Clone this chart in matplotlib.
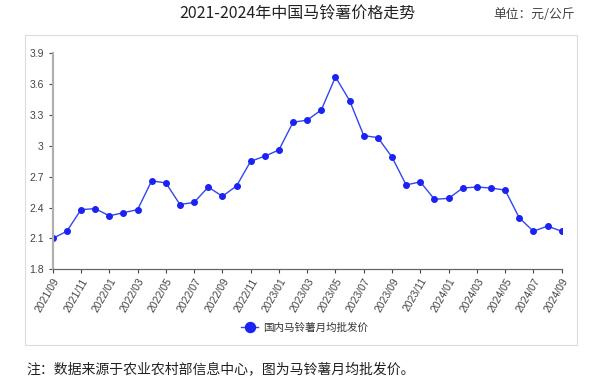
import matplotlib.pyplot as plt
from matplotlib.patches import Rectangle
from matplotlib.ticker import FuncFormatter

plt.rcParams['font.family'] = ['Noto Sans CJK SC', 'DejaVu Sans']

# monthly labels 2021/09 .. 2024/09
months = ['2021/09', '2021/10', '2021/11', '2021/12',
          '2022/01', '2022/02', '2022/03', '2022/04', '2022/05', '2022/06',
          '2022/07', '2022/08', '2022/09', '2022/10', '2022/11', '2022/12',
          '2023/01', '2023/02', '2023/03', '2023/04', '2023/05', '2023/06',
          '2023/07', '2023/08', '2023/09', '2023/10', '2023/11', '2023/12',
          '2024/01', '2024/02', '2024/03', '2024/04', '2024/05', '2024/06',
          '2024/07', '2024/08', '2024/09']
prices = [2.10, 2.17, 2.38, 2.39,
          2.32, 2.35, 2.38, 2.66, 2.64, 2.43,
          2.45, 2.60, 2.51, 2.61, 2.85, 2.90,
          2.96, 3.23, 3.25, 3.35, 3.67, 3.44,
          3.10, 3.08, 2.89, 2.62, 2.65, 2.48,
          2.49, 2.59, 2.60, 2.59, 2.57, 2.30,
          2.17, 2.22, 2.17]
y_ticks = [1.8, 2.1, 2.4, 2.7, 3.0, 3.3, 3.6, 3.9]

title = '2021-2024年中国马铃薯价格走势'
unit = '单位：元/公斤'
series_name = '国内马铃薯月均批发价'
note = '注：数据来源于农业农村部信息中心，图为马铃薯月均批发价。'

fig = plt.figure(figsize=(6.01, 3.89), dpi=100)
ax = fig.add_axes([0.0877, 0.3077, 0.8469, 0.5553])

# light frame around the chart
fig.patches.append(Rectangle((25.3 / 601, 1 - 345 / 389), 552 / 601, 310 / 389,
                             transform=fig.transFigure, fill=False,
                             edgecolor='#dcdcdc', linewidth=0.8))

x = list(range(len(months)))
ax.plot(x, prices, color='#3346ee', linewidth=1.0, marker='o', markersize=4,
        markerfacecolor='#1a22f5', markeredgecolor='#1a22f5', label=series_name)

ax.set_xlim(0, len(months) - 1)
ax.set_ylim(1.8, 3.9)
ax.set_yticks(y_ticks)
ax.yaxis.set_major_formatter(FuncFormatter(lambda v, p: '%g' % round(v, 1)))
ax.set_xticks(x[::2])
ax.set_xticklabels(months[::2], rotation=60, ha='right', va='top',
                   rotation_mode='anchor', family='Liberation Sans')
for lab in ax.get_yticklabels():
    lab.set_family('Liberation Sans')

ax.tick_params(axis='both', labelsize=7.5, colors='#444444', length=3, width=0.8)
ax.tick_params(axis='x', pad=2)
ax.spines['top'].set_visible(False)
ax.spines['right'].set_visible(False)
ax.spines['left'].set_color('#b0b0b0')
ax.spines['left'].set_linewidth(1.6)
ax.spines['bottom'].set_color('#666666')
ax.spines['bottom'].set_linewidth(0.9)

fig.legend(loc='center', bbox_to_anchor=(305 / 601, 1 - 328 / 389), frameon=False,
           fontsize=7.6, markerscale=1.8, handlelength=1.6, handletextpad=0.5,
           labelcolor='#333333')

fig.text(297 / 601, 1 - 14 / 389, title, ha='center', va='center',
         fontsize=11.5, color='#222222')
fig.text(534 / 601, 1 - 14 / 389, unit, ha='center', va='center',
         fontsize=9.2, color='#444444')
fig.text(26 / 601, 1 - 369 / 389, note, ha='left', va='center',
         fontsize=10.0, color='#222222')

fig.savefig('out.png', dpi=100)
